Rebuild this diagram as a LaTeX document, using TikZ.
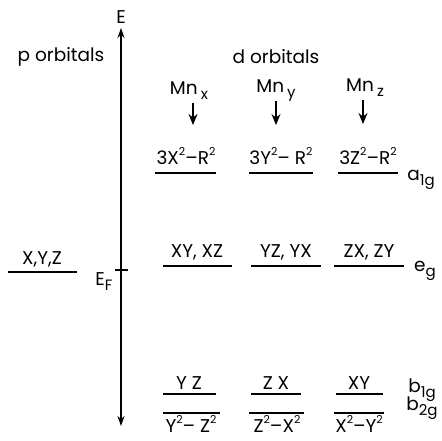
\documentclass[tikz,border=0pt]{standalone}
\usepackage{fontspec}
\setmainfont{Poppins}
\usetikzlibrary{arrows.meta}
\newcommand{\sbs}[1]{\raisebox{-0.5ex}{\fontsize{15}{16}\selectfont #1}}
\newcommand{\sps}[1]{\raisebox{0.85ex}{\fontsize{11}{12}\selectfont #1}}
\begin{document}
\begin{tikzpicture}[x=1pt,y=-1pt,
  lbl/.style={inner sep=0pt, font=\fontsize{18.5}{20}\selectfont},
  lvl/.style={line width=1.4pt},
  axisline/.style={line width=1.3pt, {Stealth[length=10pt,width=7pt]}-{Stealth[length=10pt,width=7pt]}},
  mnarrow/.style={line width=1.2pt, -{Stealth[length=11pt,width=9pt]}}]
\useasboundingbox (0,0) rectangle (442,440);
% energy axis
\coordinate (top) at (121,28);
\coordinate (bot) at (121,426);
\draw[axisline] (bot) -- (top);
\node[lbl] (E) at (121,17) {E};
\coordinate (tl) at (115,270);
\coordinate (tr) at (128,270);
\draw[lvl] (tl) -- (tr);
\node[lbl] (EF) at (104,282) {E\sbs{F}};
% headings
\node[lbl] (porb) at (61,57) {p orbitals};
\node[lbl] (dorb) at (276,57) {d orbitals};
% Mn labels
\node[lbl, anchor=base] (mnx) at (189,94) {Mn\,\sbs{x}};
\node[lbl, anchor=base] (mny) at (276,92) {Mn\,\sbs{y}};
\node[lbl, anchor=base] (mnz) at (365,91) {Mn\,\sbs{z}};
\coordinate (ax) at (193,125);
\coordinate (ay) at (276,125);
\coordinate (az) at (363,124);
\coordinate (sx) at (193,103);
\coordinate (sy) at (276,101);
\coordinate (sz) at (363,100);
\draw[mnarrow] (sx) -- (ax);
\draw[mnarrow] (sy) -- (ay);
\draw[mnarrow] (sz) -- (az);
% a1g
\node[lbl] (a1) at (186,156) {3X\sps{2}–R\sps{2}};
\node[lbl] (a2) at (281,156) {3Y\sps{2}– R\sps{2}};
\node[lbl] (a3) at (368,156) {3Z\sps{2}–R\sps{2}};
\draw[lvl] (155,173) -- (216,173);
\draw[lvl] (249,173) -- (313,173);
\draw[lvl] (338,173) -- (398,173);
\node[lbl] (a1g) at (421,180) {a\sbs{1g}};
% eg
\node[lbl] (e1) at (197,252) {XY, XZ};
\node[lbl] (e2) at (286,252) {YZ, YX};
\node[lbl] (e3) at (369,252) {ZX, ZY};
\draw[lvl] (163,266) -- (232,266);
\draw[lvl] (251,266) -- (321,266);
\draw[lvl] (334,266) -- (404,266);
\node[lbl] (eg) at (425,271) {e\sbs{g}};
% p level
\node[lbl] (pxyz) at (42,259) {X,Y,Z};
\draw[lvl] (8,272) -- (77,272);
% b1g
\node[lbl] (b1) at (189,383) {Y Z};
\node[lbl] (b2) at (276,383) {Z X};
\node[lbl] (b3) at (359,383) {XY};
\draw[lvl] (163,394) -- (216,394);
\draw[lvl] (251,394) -- (301,394);
\draw[lvl] (336,394) -- (383,394);
\node[lbl] (b1g) at (422,390) {b\sbs{1g}};
% b2g
\draw[lvl] (163,413) -- (220,413);
\draw[lvl] (249,413) -- (304,413);
\draw[lvl] (334,413) -- (384,413);
\node[lbl, anchor=base] (c1) at (191,432) {Y\sps{2}– Z\sps{2}};
\node[lbl, anchor=base] (c2) at (277,432) {Z\sps{2}–X\sps{2}};
\node[lbl, anchor=base] (c3) at (359,432) {X\sps{2}–Y\sps{2}};
\node[lbl] (b2g) at (422,408) {b\sbs{2g}};
\end{tikzpicture}
\end{document}
